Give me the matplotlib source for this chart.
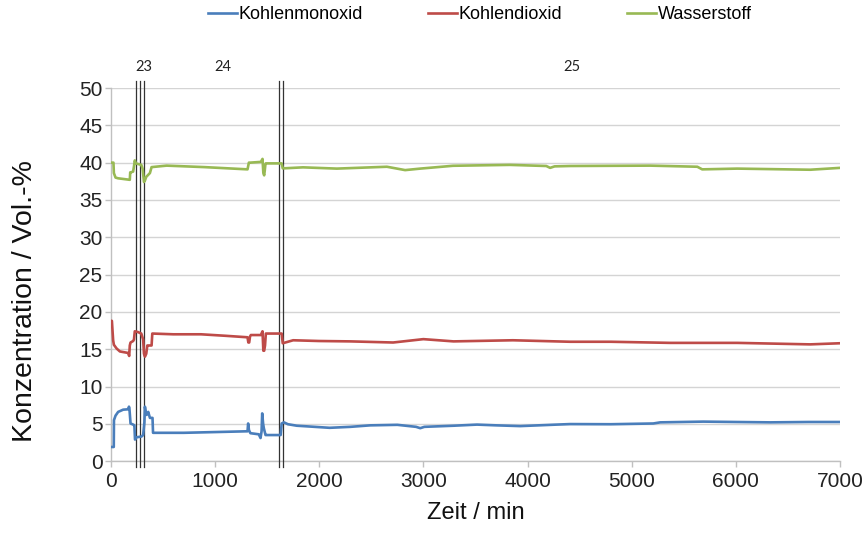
import matplotlib
matplotlib.use("Agg")
import matplotlib.pyplot as plt

# Gas composition over time (Vol.-%)
co_time = [0, 28, 30, 45, 70, 118, 166, 174, 178, 189, 214, 226, 232, 246, 294,
           310, 322, 327, 336, 343, 359, 375, 400, 405, 700, 1000, 1300, 1312,
           1318, 1326, 1340, 1420, 1437, 1447, 1453, 1462, 1469, 1485, 1500,
           1630, 1640, 1661, 1700, 1785, 1900, 2100, 2300, 2490, 2750, 2930,
           2970, 3010, 3290, 3515, 3700, 3930, 4280, 4409, 4800, 5207, 5274,
           5687, 6000, 6330, 6700, 7000]
co_conc = [1.9, 1.9, 5.5, 6.1, 6.6, 6.9, 6.95, 7.3, 7.1, 5.05, 4.9, 4.8, 2.9,
           3.2, 3.3, 3.5, 5.2, 7.3, 6.5, 6.2, 6.6, 5.8, 5.8, 3.8, 3.8, 3.9, 4.0,
           4.0, 5.05, 4.15, 3.75, 3.6, 3.1, 4.0, 6.4, 5.0, 4.4, 3.5, 3.5, 3.5,
           5.05, 5.2, 4.95, 4.75, 4.65, 4.47, 4.6, 4.8, 4.87, 4.6, 4.42, 4.6,
           4.75, 4.9, 4.8, 4.7, 4.9, 4.97, 4.95, 5.05, 5.2, 5.3, 5.25, 5.2,
           5.25, 5.25]

co2_time = [0, 10, 22, 29, 55, 87, 166, 176, 182, 189, 214, 222, 230, 260, 292,
            310, 318, 327, 340, 350, 359, 391, 398, 600, 865, 1100, 1312, 1320,
            1328, 1336, 1344, 1440, 1456, 1464, 1472, 1480, 1488, 1640, 1650,
            1750, 2000, 2300, 2710, 3000, 3290, 3860, 4409, 4800, 5370, 6013,
            6714, 7000]
co2_conc = [18.8, 18.8, 16.2, 15.6, 15.1, 14.7, 14.5, 14.1, 15.5, 15.9, 16.1,
            16.3, 17.4, 17.3, 17.1, 16.3, 14.4, 14.0, 14.4, 15.5, 15.5, 15.5,
            17.1, 17.0, 17.0, 16.8, 16.6, 15.9, 15.9, 16.7, 16.9, 16.9, 17.4,
            14.8, 14.8, 15.5, 17.1, 17.1, 15.8, 16.2, 16.1, 16.05, 15.9, 16.35,
            16.05, 16.2, 16.0, 16.0, 15.85, 15.85, 15.65, 15.8]

h2_time = [0, 25, 29, 45, 70, 182, 186, 190, 214, 222, 230, 240, 292, 305, 318,
           327, 340, 375, 391, 535, 900, 1312, 1325, 1338, 1440, 1456, 1464,
           1472, 1478, 1484, 1488, 1640, 1650, 1845, 2170, 2650, 2825, 2970,
           3285, 3830, 4180, 4217, 4260, 4409, 5178, 5630, 5677, 6013, 6714,
           7000]
h2_conc = [40.0, 40.0, 38.6, 38.0, 37.9, 37.7, 38.7, 38.7, 38.8, 39.5, 40.3,
           39.9, 39.7, 39.2, 37.4, 37.6, 38.1, 38.6, 39.4, 39.6, 39.4, 39.1,
           40.0, 40.0, 40.1, 40.5, 38.6, 38.3, 39.0, 39.8, 39.9, 39.9, 39.23,
           39.37, 39.2, 39.45, 39.0, 39.2, 39.58, 39.7, 39.55, 39.3, 39.5,
           39.55, 39.6, 39.45, 39.1, 39.2, 39.05, 39.3]

series_names = ["Kohlenmonoxid", "Kohlendioxid", "Wasserstoff"]
series_colors = ["#4a7ebb", "#be4b48", "#98b954"]

# Phase boundaries and phase numbers
boundary_times = [240, 279, 317, 1614, 1652]
phase_labels = ["23", "24", "25"]
phase_label_times = [317, 1071, 4428]

x_ticks = [0, 1000, 2000, 3000, 4000, 5000, 6000, 7000]
y_ticks = [0, 5, 10, 15, 20, 25, 30, 35, 40, 45, 50]

plt.rcParams["font.family"] = ["Liberation Sans", "DejaVu Sans"]

fig = plt.figure(figsize=(8.66, 5.35), dpi=100)
ax = fig.add_axes([0.128, 0.138, 0.842, 0.6975])

ax.set_xlim(0, 7000)
ax.set_ylim(0, 50)
ax.set_xticks(x_ticks)
ax.set_yticks(y_ticks)
ax.set_xticklabels([str(v) for v in x_ticks])
ax.set_yticklabels([str(v) for v in y_ticks])

ax.grid(axis="y", color="#d4d4d4", linewidth=1.0)
ax.set_axisbelow(True)
for side in ["top", "right"]:
    ax.spines[side].set_visible(False)
for side in ["left", "bottom"]:
    ax.spines[side].set_color("#c0c0c0")
    ax.spines[side].set_linewidth(1.0)
ax.tick_params(axis="both", colors="#c0c0c0", labelcolor="#222222",
               labelsize=15, length=4, width=1.0)
ax.tick_params(axis="y", pad=2)
ax.tick_params(axis="x", pad=4)

for t in boundary_times:
    ax.axvline(t, ymin=-0.015, ymax=1.02, color="#333333", linewidth=0.9,
               clip_on=False, zorder=3)

for lbl, t in zip(phase_labels, phase_label_times):
    ax.text(t, 52.8, lbl, ha="center", va="center", fontsize=10.5,
            family=["Lato", "DejaVu Sans"], color="#222222", clip_on=False)

ax.plot(co_time, co_conc, color=series_colors[0], linewidth=1.9,
        label=series_names[0], zorder=4)
ax.plot(co2_time, co2_conc, color=series_colors[1], linewidth=1.9,
        label=series_names[1], zorder=4)
ax.plot(h2_time, h2_conc, color=series_colors[2], linewidth=1.9,
        label=series_names[2], zorder=4)

ax.set_xlabel("Zeit / min", fontsize=17, color="#111111", labelpad=8)
ax.set_ylabel("Konzentration / Vol.-%", fontsize=20.5, color="#111111")
ax.yaxis.set_label_coords(-0.1, 0.43)

fig.legend(loc="center", bbox_to_anchor=(0.554, 0.972), ncol=3, frameon=False,
           fontsize=13, handlelength=1.6, handletextpad=0.1,
           columnspacing=3.6)

fig.savefig("out.png", dpi=100)
